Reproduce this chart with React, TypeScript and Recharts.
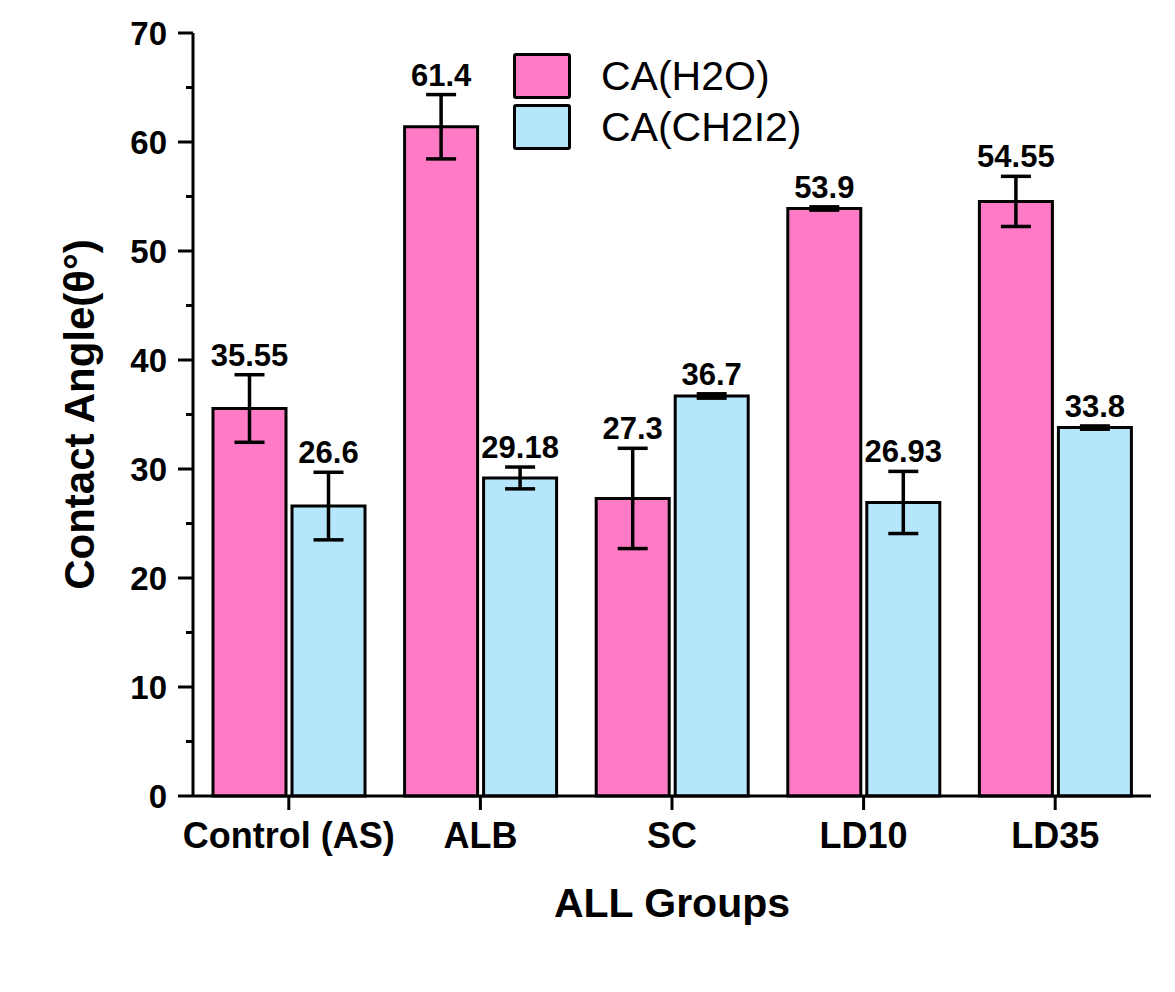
import { BarChart, Bar, XAxis, YAxis, ErrorBar, LabelList, Legend, Label } from "recharts";

const groups = ["Control (AS)", "ALB", "SC", "LD10", "LD35"];
const h2o = [35.55, 61.4, 27.3, 53.9, 54.55];
const h2oErr = [3.1, 2.95, 4.6, 0.15, 2.3];
const ch2i2 = [26.6, 29.18, 36.7, 26.93, 33.8];
const ch2i2Err = [3.1, 1.0, 0.2, 2.85, 0.15];
const yTicks = [0, 5, 10, 15, 20, 25, 30, 35, 40, 45, 50, 55, 60, 65, 70];

const PINK = "#ff7bc5";
const BLUE = "#b5e6fb";
const FONT = "'Liberation Sans', Arial, sans-serif";
const AXIS_X = 185;
const seriesOrder = ["h2o", "ch2i2"];
const seriesColor: Record<string, string> = { h2o: PINK, ch2i2: BLUE };

const data = groups.map((g, i) => ({
  group: g,
  h2o: h2o[i],
  h2oErr: h2oErr[i],
  ch2i2: ch2i2[i],
  ch2i2Err: ch2i2Err[i],
}));

function YTick(props: any) {
  const { y, payload } = props;
  const major = payload.value % 10 === 0;
  return (
    <g>
      <line x1={AXIS_X - (major ? 15 : 7)} x2={AXIS_X} y1={y} y2={y} stroke="#000" strokeWidth={3} />
      {major && (
        <text x={AXIS_X - 26} y={y} dy="0.36em" textAnchor="end" fontFamily={FONT} fontWeight="bold" fontSize={33} fill="#000">
          {payload.value}
        </text>
      )}
    </g>
  );
}

// value label sits above the error bar cap
const valueLabel = (errs: number[]) => (props: any) => {
  const { x, y, width, height, value, index } = props;
  const top = y - errs[index] * (height / value);
  return (
    <text x={x + width / 2} y={top - 9} textAnchor="middle" fontFamily={FONT} fontWeight="bold" fontSize={31} fill="#000">
      {value}
    </text>
  );
};

function LegendBox(props: any) {
  const items = [...props.payload].sort(
    (a: any, b: any) => seriesOrder.indexOf(a.dataKey) - seriesOrder.indexOf(b.dataKey)
  );
  return (
    <div style={{ fontFamily: FONT }}>
      {items.map((p: any) => (
        <div key={p.value} style={{ display: "flex", alignItems: "center", height: 46, marginBottom: 5 }}>
          <span style={{ width: 58, height: 46, boxSizing: "border-box", background: seriesColor[p.dataKey], border: "3px solid #000", borderRadius: 3 }} />
          <span style={{ marginLeft: 30, fontSize: 41, color: "#000" }}>{p.value}</span>
        </div>
      ))}
    </div>
  );
}

export default function App() {
  return (
    <BarChart
      width={1159}
      height={976}
      data={data}
      margin={{ top: 25, right: 16, left: 0, bottom: 38 }}
      barCategoryGap={20}
      barGap={6}
    >
      <XAxis
        dataKey="group"
        height={150}
        interval={0}
        axisLine={{ stroke: "#000", strokeWidth: 3 }}
        tickLine={{ stroke: "#000", strokeWidth: 3 }}
        tickSize={14}
        tickMargin={12}
        tick={{ fill: "#000", fontFamily: FONT, fontWeight: "bold", fontSize: 36 }}
      >
        <Label
          content={(p: any) => (
            <text x={p.viewBox.x + p.viewBox.width / 2} y={p.viewBox.y + 121} textAnchor="middle" fontFamily={FONT} fontWeight="bold" fontSize={41} fill="#000">
              ALL Groups
            </text>
          )}
        />
      </XAxis>
      <XAxis xAxisId="top" dataKey="group" orientation="top" height={0} tick={false} tickLine={false} axisLine={{ stroke: "#000", strokeWidth: 3 }} />
      <YAxis
        width={AXIS_X}
        domain={[0, 70]}
        ticks={yTicks}
        interval={0}
        axisLine={{ stroke: "#000", strokeWidth: 3 }}
        tickLine={false}
        tick={<YTick />}
      >
        <Label
          content={(p: any) => {
            const cy = p.viewBox.y + p.viewBox.height / 2;
            return (
              <text x={71} y={cy} transform={`rotate(-90, 71, ${cy})`} dy="0.36em" textAnchor="middle" fontFamily={FONT} fontWeight="bold" fontSize={42} fill="#000">
                Contact Angle(θ°)
              </text>
            );
          }}
        />
      </YAxis>
      <YAxis yAxisId="right" orientation="right" width={0} domain={[0, 70]} tick={false} tickLine={false} axisLine={{ stroke: "#000", strokeWidth: 3 }} />
      <Legend
        layout="vertical"
        align="center"
        verticalAlign="middle"
        wrapperStyle={{ top: 45, left: 505, width: 400 }}
        content={<LegendBox />}
      />
      <Bar dataKey="h2o" name="CA(H2O)" fill={PINK} stroke="#000" strokeWidth={3} isAnimationActive={false}>
        <ErrorBar dataKey="h2oErr" direction="y" width={15} stroke="#000" strokeWidth={3.5} />
        <LabelList dataKey="h2o" content={valueLabel(h2oErr)} />
      </Bar>
      <Bar dataKey="ch2i2" name="CA(CH2I2)" fill={BLUE} stroke="#000" strokeWidth={3} isAnimationActive={false}>
        <ErrorBar dataKey="ch2i2Err" direction="y" width={15} stroke="#000" strokeWidth={3.5} />
        <LabelList dataKey="ch2i2" content={valueLabel(ch2i2Err)} />
      </Bar>
    </BarChart>
  );
}
